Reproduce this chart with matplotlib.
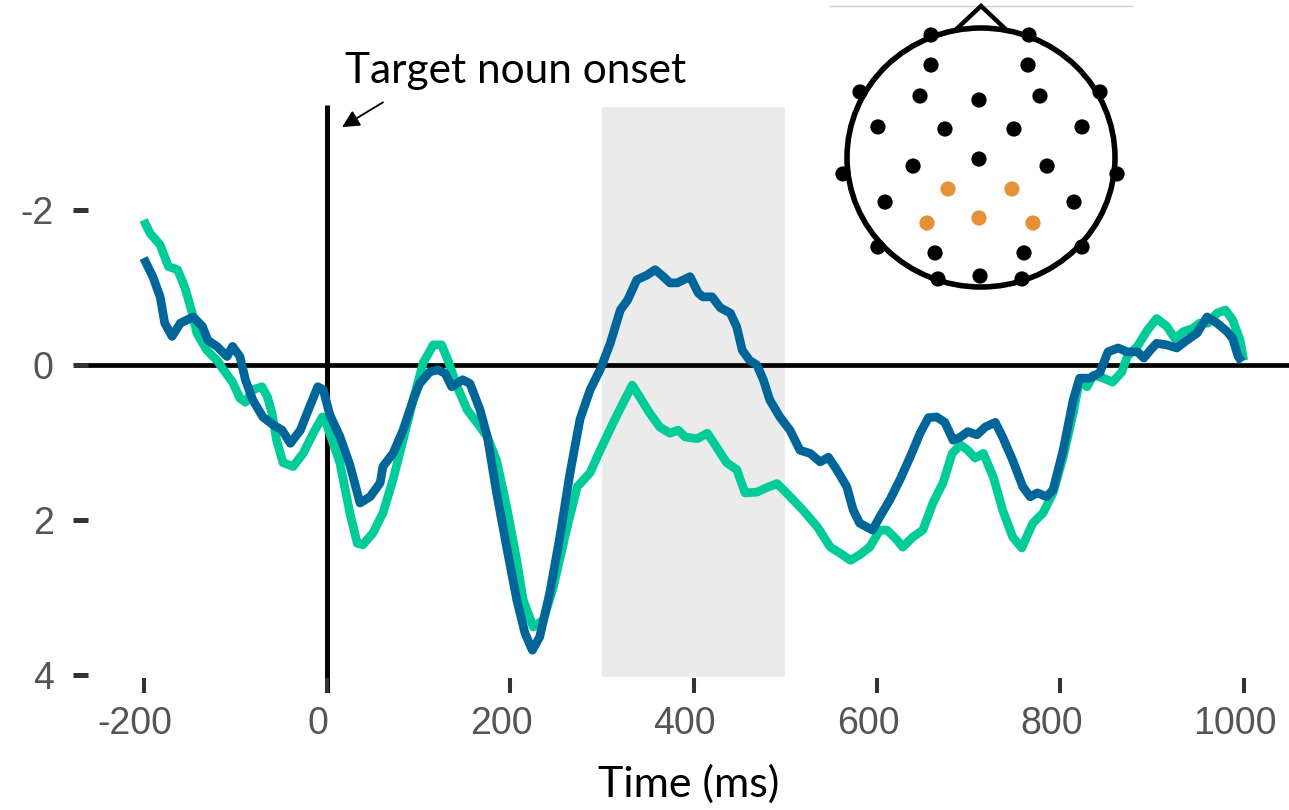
import matplotlib
matplotlib.use("Agg")
import matplotlib.pyplot as plt
import matplotlib.transforms as mtransforms
from matplotlib.patches import Rectangle, Ellipse

# ---------------- data ----------------
green_t = [-200,-193,-182,-173,-163,-155,-147,-142,-131,-120,-113,-103,-95,-89,-81,-71,-65,-60,-55,-48,-37,-26,-15,-5,0,
           14,25,33,39,50,61,72,83,94,105,116,125,132,142,153,164,175,185,196,207,214,225,236,247,262,273,287,298,312,323,
           333,341,352,363,374,383,391,404,415,425,436,447,456,469,480,491,502,519,535,549,560,571,581,592,603,611,622,628,
           639,650,661,672,682,691,699,707,716,727,737,748,758,765,770,781,792,803,814,821,829,836,847,857,867,873,884,895,
           905,916,925,934,944,952,961,971,980,988,996,1000]
green_v = [-1.87,-1.70,-1.55,-1.27,-1.23,-1.00,-0.67,-0.41,-0.19,-0.06,0.06,0.22,0.43,0.48,0.32,0.28,0.41,0.62,0.97,1.26,
           1.31,1.14,0.88,0.67,0.78,1.26,1.91,2.30,2.32,2.17,1.91,1.48,0.97,0.45,-0.03,-0.26,-0.26,-0.06,0.28,0.58,0.75,
           0.93,1.23,1.83,2.52,3.03,3.38,3.29,2.86,2.09,1.57,1.39,1.10,0.75,0.49,0.26,0.41,0.62,0.80,0.88,0.84,0.93,0.95,
           0.88,1.06,1.26,1.35,1.65,1.64,1.58,1.53,1.66,1.87,2.09,2.35,2.43,2.52,2.45,2.35,2.13,2.13,2.26,2.35,2.22,2.13,
           1.78,1.52,1.14,1.03,1.10,1.20,1.14,1.45,1.87,2.22,2.36,2.17,2.04,1.91,1.65,1.19,0.62,0.19,0.28,0.13,0.17,0.22,
           0.09,-0.11,-0.24,-0.45,-0.60,-0.50,-0.34,-0.43,-0.47,-0.54,-0.54,-0.67,-0.71,-0.58,-0.32,-0.06]

blue_t = [-200,-190,-182,-177,-169,-160,-146,-136,-130,-120,-109,-103,-95,-89,-81,-70,-59,-49,-40,-29,-19,-10,-4,3,14,25,
          36,47,58,61,72,83,94,101,112,121,129,136,148,156,167,175,185,196,207,216,224,232,243,254,265,276,287,298,309,320,
          328,338,349,358,367,374,382,396,405,410,420,429,440,447,453,461,469,476,483,494,505,516,527,538,547,556,567,574,
          581,595,603,614,625,636,647,656,665,674,683,691,699,709,718,729,737,748,759,767,775,785,792,803,814,821,832,843,
          852,863,873,884,891,898,905,916,927,938,949,960,971,982,988,994,998]
blue_v = [-1.38,-1.14,-0.88,-0.54,-0.37,-0.54,-0.62,-0.50,-0.32,-0.24,-0.11,-0.24,-0.11,0.19,0.45,0.67,0.77,0.84,1.01,0.84,
          0.54,0.28,0.32,0.64,0.92,1.29,1.78,1.70,1.52,1.31,1.14,0.84,0.45,0.24,0.09,0.06,0.11,0.28,0.19,0.24,0.58,0.93,
          1.65,2.35,3.03,3.46,3.68,3.51,2.94,2.22,1.40,0.70,0.32,0.06,-0.28,-0.71,-0.84,-1.10,-1.16,-1.23,-1.14,-1.06,
          -1.06,-1.14,-0.93,-0.88,-0.88,-0.74,-0.67,-0.49,-0.19,-0.06,0.00,0.19,0.45,0.67,0.84,1.10,1.14,1.25,1.19,1.35,
          1.57,1.87,2.04,2.13,1.96,1.74,1.48,1.19,0.88,0.68,0.67,0.74,0.97,0.93,0.86,0.90,0.80,0.74,0.93,1.23,1.57,1.70,
          1.65,1.70,1.61,1.10,0.45,0.17,0.17,0.10,-0.17,-0.22,-0.17,-0.17,-0.09,-0.19,-0.28,-0.26,-0.22,-0.32,-0.41,-0.62,
          -0.54,-0.43,-0.34,-0.11,-0.04]

x_ticks = [-200, 0, 200, 400, 600, 800, 1000]
x_tick_labels = ["-200", "0", "200", "400", "600", "800", "1000"]
y_ticks = [-2, 0, 2, 4]
y_tick_labels = ["-2", "0", "2", "4"]

window = (300, 500)          # shaded analysis window (ms)
onset = 0                    # target noun onset (ms)
annotation_text = "Target noun onset"
x_label = "Time (ms)"

# electrode layout (head-normalised coordinates, nose up)
elec_black_x = [-0.373,0.358,-0.373,0.351,-0.903,0.888,-0.455,-0.015,0.440,-0.769,-0.269,0.246,0.754,-0.015,-0.507,0.493,
                -1.030,1.015,-0.716,0.694,-0.769,0.754,-0.343,0.321,-0.321,-0.007,0.306]
elec_black_y = [0.946,0.946,0.714,0.714,0.506,0.506,0.475,0.444,0.475,0.236,0.220,0.220,0.236,-0.012,-0.066,-0.066,
                -0.127,-0.127,-0.344,-0.344,-0.691,-0.691,-0.737,-0.737,-0.938,-0.915,-0.938]
elec_roi_x = [-0.246, 0.231, -0.403, -0.015, 0.388]
elec_roi_y = [-0.243, -0.243, -0.506, -0.467, -0.506]

GREEN = "#00CC99"
BLUE = "#006699"
ORANGE = "#E69138"

W, H = 1289, 810
fig = plt.figure(figsize=(W / 100, H / 100), dpi=100)
ax = fig.add_axes([88 / W, 117 / H, 1 - 88 / W, 693 / H])
ax.set_xlim(-260.7, 1049.4)
ax.set_ylim(4.232, -4.71)
for s in ax.spines.values():
    s.set_visible(False)

ax.add_patch(Rectangle((window[0], -3.33), window[1] - window[0], 7.36,
                       facecolor="#EBEBEB", edgecolor="none", zorder=0))
ax.axhline(0, color="black", lw=3.4, zorder=1)
ax.vlines(onset, -3.35, 4.232, color="black", lw=3.6, zorder=1)

ax.plot(green_t, green_v, color=GREEN, lw=6.3, solid_joinstyle="round", solid_capstyle="butt", zorder=3)
ax.plot(blue_t, blue_v, color=BLUE, lw=6.3, solid_joinstyle="round", solid_capstyle="butt", zorder=4)

ax.set_xticks(x_ticks)
ax.set_xticklabels(x_tick_labels, family="Liberation Sans")
ax.set_yticks(y_ticks)
ax.set_yticklabels(y_tick_labels, family="Liberation Sans")
ax.tick_params(axis="x", direction="in", length=10.8, width=2.9, color="#333333",
               pad=9, labelsize=27, labelcolor="#555555")
ax.tick_params(axis="y", direction="out", length=10.8, width=3.6, color="#333333",
               pad=14, labelsize=27, labelcolor="#555555")
shift = mtransforms.ScaledTranslation(-9 / 100, 0, fig.dpi_scale_trans)
for lbl in ax.get_xticklabels():
    lbl.set_transform(lbl.get_transform() + shift)

ax.text(20.0, -3.64, annotation_text, fontsize=30.5, family=["Lato", "DejaVu Sans"],
        va="baseline", ha="left", color="black")
ax.annotate("", xy=(16.4, -3.07), xytext=(61.1, -3.39),
            arrowprops=dict(arrowstyle="-|>", color="black", lw=1.3, mutation_scale=26,
                            shrinkA=0, shrinkB=0))

fig.text(688.5 / W, (H - 797) / H, x_label, fontsize=31, family=["Lato", "DejaVu Sans"],
         ha="center", va="baseline", color="black")

# head inset
rx, ry = 134.0, 129.5
cx, cy = 981.0, 157.5
hax = fig.add_axes([(cx - 1.2 * rx) / W, (H - cy - 1.2 * ry) / H, 2.4 * rx / W, 2.4 * ry / H])
hax.set_xlim(-1.2, 1.2)
hax.set_ylim(-1.2, 1.2)
hax.axis("off")
hax.plot([-1.127, 1.127], [1.17, 1.17], color="#CCCCCC", lw=1.0, zorder=1)
hax.add_patch(Ellipse((0, 0), 2.0, 2.0, facecolor="white", edgecolor="black", lw=4.0, zorder=2))
hax.plot([-0.19, 0.0, 0.19], [0.985, 1.17, 0.985], color="black", lw=3.2, zorder=1,
         solid_joinstyle="miter")
hax.scatter(elec_black_x, elec_black_y, s=120, color="black", edgecolors="none", zorder=4)
hax.scatter(elec_roi_x, elec_roi_y, s=120, color=ORANGE, edgecolors="none", zorder=4)

fig.savefig("out.png", dpi=100)
